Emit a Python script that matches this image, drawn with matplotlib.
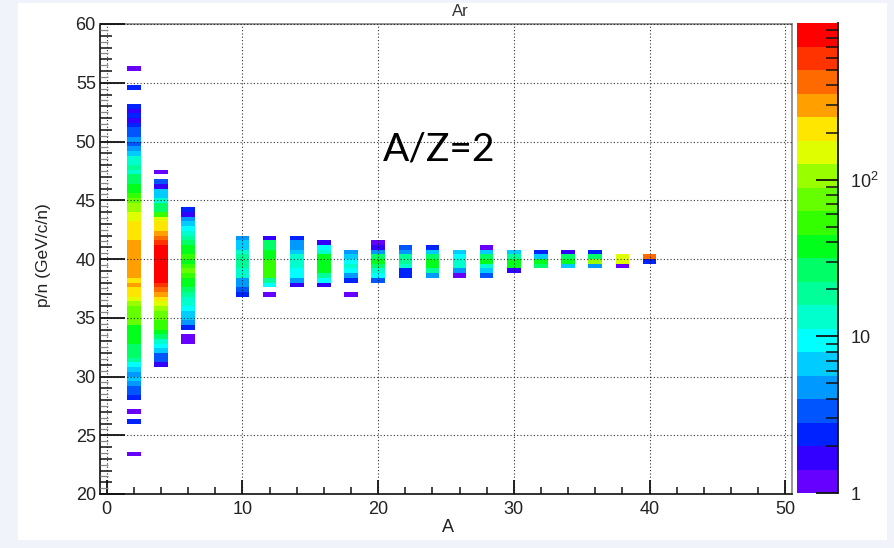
import numpy as np
import matplotlib
matplotlib.use("Agg")
import matplotlib.pyplot as plt
from matplotlib.colors import ListedColormap, LogNorm
from matplotlib.patches import Rectangle
from matplotlib.ticker import MultipleLocator, LogLocator, NullFormatter

plt.rcParams['font.family'] = ['Liberation Sans', 'DejaVu Sans']
plt.rcParams['mathtext.fontset'] = 'custom'
plt.rcParams['mathtext.rm'] = 'Liberation Sans'

# Histogram binning: unit bins in A, 0.4 GeV/c/n bins in p/n
A_LO, A_HI = -0.5, 50.5
PN_LO, PN_HI, PN_BIN = 20.0, 60.0, 0.4

# Fragment mass numbers (one column each)
mass_numbers = [2, 4, 6, 10, 12, 14, 16, 18, 20, 22, 24, 26, 28, 30, 32, 34, 36, 38, 40]

# Lower edge of the first p/n bin listed for each column
pn_first_bin = [23.2, 30.8, 32.8, 36.8, 36.8, 37.6, 37.6, 36.8, 38.0, 38.4,
                38.4, 38.4, 38.4, 38.8, 39.2, 39.2, 39.2, 39.2, 39.6]

# Entries per p/n bin, bottom to top (0 = empty bin)
counts_a2 = [1, 0, 0, 0, 0, 0, 0, 2.4, 0, 1, 0, 0,
             2.4, 3.4, 3.4, 4.7, 6.7, 4.7, 6.7, 9.4, 19, 27,
             27, 27, 38, 38, 38, 38, 75, 75, 75, 75,
             106, 150, 210, 210, 300, 210, 300, 300, 300, 300,
             300, 300, 300, 300, 210, 210, 210, 210, 150, 150,
             106, 106, 75, 53, 38, 38, 27, 27, 13, 19,
             13, 13, 6.7, 4.7, 3.4, 4.7, 3.4, 3.4, 2.4, 1.7,
             2.4, 1.7, 2.4,
             0, 0, 0, 2.4, 0, 0, 0, 1]
counts_a4 = [1.7, 3.4, 3.4, 6.7, 9.4, 13, 27, 38, 53, 53,
             75, 75, 106, 150, 210, 300, 420, 600, 850, 850,
             850, 850, 850, 850, 850, 850, 600, 420, 300, 210,
             210, 150, 53, 27, 27, 13, 6.7, 6.7, 1.7, 3.4,
             0, 1]
counts_a6 = [1, 1, 0,
             2.4, 4.7, 6.7, 6.7, 9.4, 13, 13, 19, 27, 38, 38, 53, 75,
             53, 38, 53, 38, 38, 27, 19, 13, 9.4, 6.7, 4.7, 1.7, 2.4]
counts_a10 = [2.4, 3.4, 4.7, 4.7, 13, 13, 19, 19, 19, 13, 6.7, 6.7, 4.7]
counts_a12 = [1, 0, 9.4, 19, 53, 53, 53, 53, 38, 38, 27, 27, 1.7]
counts_a14 = [1.7, 4.7, 9.4, 9.4, 13, 13, 13, 6.7, 4.7, 4.7, 2.4]
counts_a16 = [1.7, 9.4, 19, 38, 38, 38, 38, 13, 9.4, 1.7]
counts_a18 = [1, 0, 0, 2.4, 4.7, 9.4, 13, 9.4, 6.7, 4.7]
counts_a20 = [3.4, 9.4, 13, 27, 38, 27, 4.7, 1.7, 1]
counts_a22 = [2.4, 2.4, 13, 19, 19, 4.7, 3.4]
counts_a24 = [4.7, 19, 38, 38, 27, 6.7, 2.4]
counts_a26 = [1, 4.7, 13, 13, 9.4, 6.7]
counts_a28 = [3.4, 6.7, 13, 38, 27, 6.7, 1]
counts_a30 = [1.7, 38, 38, 19, 6.7]
counts_a32 = [27, 38, 6.7, 2.4]
counts_a34 = [6.7, 38, 27, 1.7]
counts_a36 = [4.7, 106, 27, 2.4]
counts_a38 = [1, 150, 150]
counts_a40 = [2.4, 420]

column_counts = [counts_a2, counts_a4, counts_a6, counts_a10, counts_a12, counts_a14,
                 counts_a16, counts_a18, counts_a20, counts_a22, counts_a24, counts_a26,
                 counts_a28, counts_a30, counts_a32, counts_a34, counts_a36, counts_a38,
                 counts_a40]

# 20-level violet-to-red palette on a log z axis
palette = ['#6600ff', '#3300ff', '#0022ff', '#0055ff', '#0099ff', '#00ccff',
           '#00ffff', '#00ffcc', '#00ff99', '#00ff66', '#00ff1a', '#33ff00',
           '#66ff00', '#99ff00', '#dfff00', '#ffe600', '#ffa000', '#ff6a00',
           '#ff3300', '#ff0000']
cmap = ListedColormap(palette)
norm = LogNorm(vmin=1, vmax=1000)

# Fill the 2D histogram
a_edges = np.arange(A_LO, A_HI + 0.5, 1.0)
pn_edges = np.linspace(PN_LO, PN_HI, int(round((PN_HI - PN_LO) / PN_BIN)) + 1)
H = np.zeros((len(pn_edges) - 1, len(a_edges) - 1))
for a, y0, c in zip(mass_numbers, pn_first_bin, column_counts):
    j0 = int(round((y0 - PN_LO) / PN_BIN))
    H[j0:j0 + len(c), int(round(a - A_LO - 0.5))] = c
Hm = np.ma.masked_less_equal(H, 0)

W, Hpx = 895, 548
fig = plt.figure(figsize=(W / 100, Hpx / 100), dpi=100, facecolor='#f1f3fb')
fig.patches.append(Rectangle((18 / W, 1 - 540 / Hpx), (887 - 18) / W, (540 - 3) / Hpx,
                             transform=fig.transFigure, facecolor='white',
                             edgecolor='none', zorder=-10))

ax = fig.add_axes([100 / W, 1 - 494 / Hpx, 692 / W, 470 / Hpx])
cax = fig.add_axes([797 / W, 1 - 493 / Hpx, 41 / W, 470 / Hpx])

mesh = ax.pcolormesh(a_edges, pn_edges, Hm, cmap=cmap, norm=norm)
ax.set_xlim(A_LO, A_HI)
ax.set_ylim(PN_LO, PN_HI)

ax.xaxis.set_major_locator(MultipleLocator(10))
ax.xaxis.set_minor_locator(MultipleLocator(2))
ax.yaxis.set_major_locator(MultipleLocator(5))
ax.yaxis.set_minor_locator(MultipleLocator(1))
ax.tick_params(which='both', direction='in', top=False, right=False,
               color='#111111', labelcolor='#222222')
ax.tick_params(axis='y', which='major', length=18, width=1.3, pad=3, labelsize=13)
ax.tick_params(axis='y', which='minor', length=8.5, width=1.1)
ax.tick_params(axis='x', which='major', length=10, width=1.3, pad=5, labelsize=13)
ax.tick_params(axis='x', which='minor', length=5, width=1.1)

# small half-unit ticks on the p/n axis
half_ticks = np.arange(PN_LO + 0.5, PN_HI, 1.0)
ax.hlines(half_ticks, 0, 0.011, transform=ax.get_yaxis_transform(),
          colors='#888888', lw=0.9, zorder=3)

ax.set_axisbelow(False)
ax.grid(True, which='major', color='black', linestyle=(0, (1, 2)), linewidth=0.8, alpha=0.8)

for side in ['left', 'bottom']:
    ax.spines[side].set_color('#222222')
    ax.spines[side].set_linewidth(1.3)
for side in ['top', 'right']:
    ax.spines[side].set_color('#777777')
    ax.spines[side].set_linewidth(1.1)

cb = fig.colorbar(mesh, cax=cax)
cb.outline.set_visible(False)
cb.set_ticks([1, 10, 100], labels=['1', '10', r'$\mathregular{10^{2}}$'])
cax.yaxis.set_minor_locator(LogLocator(base=10, subs=np.arange(2, 10)))
cax.yaxis.set_minor_formatter(NullFormatter())
cax.tick_params(which='both', direction='in', right=True, left=False, color='#111111')
cax.tick_params(which='major', length=16, width=1.3, pad=9, labelsize=13, labelcolor='#222222')
cax.tick_params(which='minor', length=8.5, width=1.1)
cax.plot([1, 1], [0, 1], transform=cax.transAxes, color='#111111', lw=1.3, clip_on=False)

fig.text(448 / W, 1 - 528 / Hpx, 'A', fontsize=13, ha='center', va='center', color='#222222')
fig.text(44 / W, 1 - 255 / Hpx, 'p/n (GeV/c/n)', fontsize=12.5, rotation=90,
         ha='center', va='center', color='#222222')
fig.text(460 / W, 1 - 11 / Hpx, 'Ar', fontsize=12, ha='center', va='center', color='#333333')
fig.text(383 / W, 1 - 160 / Hpx, 'A/Z=2', fontsize=28, family=['Lato', 'DejaVu Sans'],
         ha='left', va='baseline', color='black')

fig.savefig('out.png', dpi=100, facecolor=fig.get_facecolor())
